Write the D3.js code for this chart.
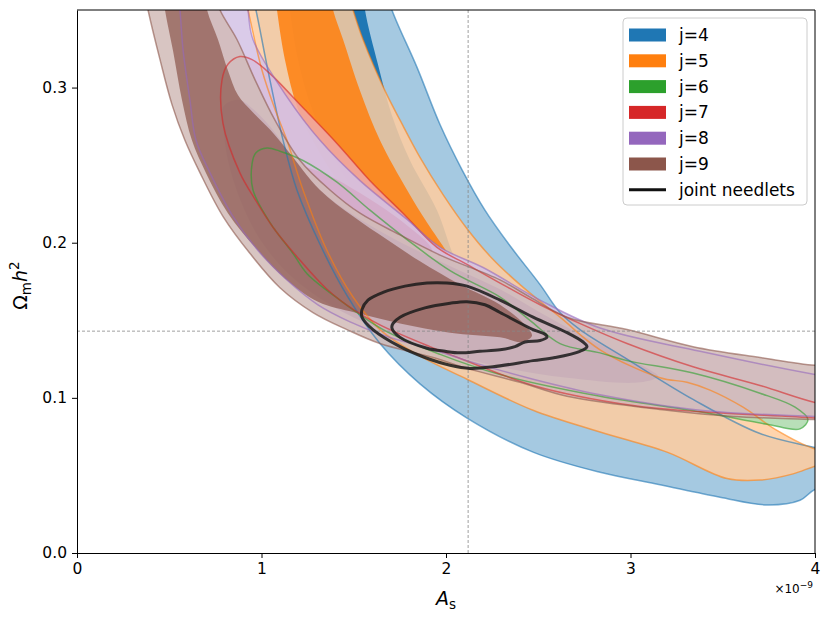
<!DOCTYPE html>
<html>
<head>
<meta charset="utf-8">
<script src="https://cdn.jsdelivr.net/npm/d3@7"></script>
<style>
  body { margin: 0; background: #fff; }
  text { font-family: "DejaVu Sans", sans-serif; }
</style>
</head>
<body>
<svg width="831" height="621"></svg>
<script>
// ---- data (A_s in units of 1e-9, Omega_m h^2) ----
const series = ["j=4", "j=5", "j=6", "j=7", "j=8", "j=9"];
const colors = ["#1f77b4", "#ff7f0e", "#2ca02c", "#d62728", "#9467bd", "#8c564b"];
const xTicks = [0, 1, 2, 3, 4];
const yTicks = [0.0, 0.1, 0.2, 0.3];
const fiducial = {As: 2.12, omh2: 0.143};

const j4_95 = [[0.938,0.366],[0.970,0.350],[1.035,0.311],[1.117,0.266],[1.192,0.234],[1.317,0.199],[1.463,0.166],[1.642,0.135],[1.859,0.109],[2.114,0.087],[2.472,0.065],[2.835,0.052],[3.160,0.044],[3.485,0.036],[3.740,0.031],[3.919,0.034],[4.000,0.041],[4.190,0.047],[4.190,0.063],[4.000,0.068],[3.702,0.077],[3.339,0.099],[2.981,0.125],[2.726,0.144],[2.618,0.155],[2.510,0.173],[2.347,0.198],[2.211,0.221],[2.087,0.247],[1.968,0.276],[1.843,0.313],[1.707,0.350],[1.669,0.366]];
const j4_68 = [[1.138,0.366],[1.154,0.350],[1.198,0.318],[1.274,0.286],[1.398,0.253],[1.561,0.224],[1.751,0.198],[1.940,0.179],[2.103,0.168],[2.173,0.166],[2.130,0.176],[2.049,0.190],[1.951,0.221],[1.805,0.253],[1.707,0.282],[1.631,0.315],[1.561,0.350],[1.550,0.366]];

const j5_95 = [[0.900,0.366],[0.927,0.350],[1.003,0.311],[1.073,0.286],[1.138,0.266],[1.225,0.234],[1.355,0.195],[1.496,0.165],[1.642,0.144],[1.843,0.128],[2.114,0.112],[2.472,0.092],[2.835,0.078],[3.198,0.065],[3.523,0.048],[3.702,0.047],[3.881,0.051],[4.000,0.056],[4.136,0.060],[4.136,0.065],[4.000,0.067],[3.794,0.079],[3.610,0.094],[3.431,0.105],[3.306,0.110],[3.160,0.113],[2.835,0.131],[2.618,0.152],[2.401,0.173],[2.249,0.190],[2.114,0.209],[1.984,0.231],[1.859,0.255],[1.751,0.279],[1.669,0.298],[1.550,0.331],[1.496,0.350],[1.458,0.366]];
const j5_68 = [[1.068,0.366],[1.084,0.350],[1.127,0.318],[1.198,0.286],[1.306,0.260],[1.453,0.234],[1.615,0.215],[1.805,0.199],[1.995,0.186],[2.054,0.184],[2.005,0.194],[1.897,0.213],[1.789,0.234],[1.642,0.266],[1.534,0.298],[1.442,0.331],[1.388,0.350],[1.366,0.366]];

const j6_95 = [[1.030,0.261],[1.100,0.259],[1.225,0.253],[1.409,0.239],[1.588,0.221],[1.789,0.202],[2.022,0.182],[2.293,0.165],[2.455,0.150],[2.618,0.135],[2.835,0.129],[2.981,0.124],[3.339,0.116],[3.702,0.103],[3.892,0.094],[3.962,0.086],[3.919,0.080],[3.740,0.083],[3.377,0.091],[2.835,0.101],[2.293,0.115],[1.968,0.128],[1.659,0.144],[1.425,0.163],[1.247,0.180],[1.171,0.193],[1.046,0.213],[0.954,0.234],[0.949,0.251],[0.970,0.258]];

const j7_95 = [[0.883,0.320],[0.949,0.318],[1.046,0.309],[1.225,0.287],[1.409,0.264],[1.588,0.240],[1.767,0.219],[1.951,0.197],[2.114,0.186],[2.293,0.174],[2.510,0.160],[2.743,0.147],[2.981,0.135],[3.339,0.120],[3.702,0.108],[4.000,0.097],[4.190,0.093],[4.190,0.085],[4.000,0.087],[3.377,0.091],[3.014,0.095],[2.472,0.108],[2.130,0.123],[1.913,0.133],[1.642,0.147],[1.496,0.157],[1.355,0.170],[1.192,0.191],[1.062,0.210],[0.965,0.228],[0.883,0.245],[0.791,0.277],[0.786,0.305],[0.818,0.315]];
const j7_68 = [[0.911,0.280],[1.003,0.276],[1.171,0.253],[1.355,0.244],[1.534,0.232],[1.713,0.218],[1.832,0.207],[1.913,0.198],[1.924,0.194],[1.832,0.192],[1.642,0.192],[1.425,0.202],[1.209,0.218],[1.046,0.237],[0.938,0.256],[0.883,0.269]];

const j8_95 = [[0.911,0.366],[0.927,0.350],[0.954,0.331],[1.138,0.294],[1.317,0.266],[1.534,0.240],[1.789,0.215],[1.968,0.197],[2.201,0.184],[2.510,0.163],[2.835,0.145],[3.377,0.130],[4.000,0.115],[4.190,0.111],[4.190,0.087],[4.000,0.088],[3.377,0.092],[2.835,0.102],[2.472,0.112],[2.114,0.124],[1.930,0.131],[1.669,0.140],[1.480,0.149],[1.306,0.160],[1.138,0.176],[0.981,0.195],[0.840,0.218],[0.721,0.245],[0.645,0.266],[0.612,0.292],[0.575,0.324],[0.558,0.350],[0.542,0.366]];
const j8_68 = [[0.813,0.290],[0.883,0.292],[0.965,0.285],[1.073,0.271],[1.182,0.253],[1.317,0.234],[1.496,0.218],[1.680,0.205],[1.859,0.194],[2.076,0.182],[2.293,0.170],[2.510,0.155],[2.726,0.141],[2.943,0.128],[3.106,0.118],[3.149,0.114],[3.052,0.110],[2.656,0.113],[2.293,0.120],[1.968,0.130],[1.642,0.144],[1.371,0.160],[1.154,0.179],[0.992,0.202],[0.883,0.228],[0.818,0.253],[0.791,0.276],[0.786,0.286]];

const j9_95 = [[0.358,0.366],[0.385,0.350],[0.450,0.318],[0.515,0.289],[0.585,0.266],[0.667,0.245],[0.791,0.217],[0.938,0.193],[1.100,0.171],[1.279,0.155],[1.463,0.144],[1.642,0.135],[1.930,0.126],[2.114,0.119],[2.401,0.110],[2.656,0.101],[3.198,0.092],[3.556,0.088],[4.000,0.086],[4.190,0.085],[4.190,0.121],[4.000,0.121],[3.702,0.126],[3.339,0.133],[2.981,0.144],[2.656,0.152],[2.455,0.165],[2.293,0.176],[1.968,0.192],[1.751,0.205],[1.534,0.219],[1.371,0.234],[1.209,0.253],[1.073,0.279],[0.965,0.305],[0.867,0.331],[0.775,0.350],[0.732,0.366]];
const j9_68 = [[0.461,0.366],[0.477,0.350],[0.520,0.324],[0.569,0.292],[0.623,0.266],[0.699,0.245],[0.818,0.219],[0.965,0.197],[1.127,0.177],[1.306,0.162],[1.507,0.155],[1.751,0.148],[2.022,0.142],[2.293,0.139],[2.412,0.136],[2.466,0.140],[2.428,0.147],[2.293,0.160],[2.076,0.173],[1.859,0.188],[1.680,0.202],[1.496,0.217],[1.317,0.234],[1.138,0.260],[1.046,0.273],[0.954,0.284],[0.873,0.295],[0.818,0.311],[0.764,0.331],[0.705,0.350],[0.688,0.366]];

const joint95 = [[1.545,0.157],[1.577,0.163],[1.659,0.168],[1.778,0.172],[1.897,0.174],[2.005,0.174],[2.114,0.172],[2.293,0.163],[2.472,0.152],[2.656,0.142],[2.743,0.136],[2.764,0.133],[2.726,0.130],[2.591,0.126],[2.472,0.124],[2.255,0.120],[2.130,0.119],[2.022,0.121],[1.886,0.126],[1.751,0.133],[1.604,0.144],[1.545,0.152]];
const joint68 = [[1.713,0.148],[1.751,0.152],[1.886,0.158],[2.022,0.161],[2.114,0.162],[2.211,0.160],[2.293,0.155],[2.472,0.144],[2.537,0.141],[2.547,0.139],[2.510,0.137],[2.428,0.136],[2.374,0.133],[2.293,0.131],[2.184,0.130],[2.076,0.129],[1.995,0.130],[1.897,0.132],[1.751,0.139],[1.707,0.145]];

const outer = [j4_95, j5_95, j6_95, j7_95, j8_95, j9_95];
const inner = [j4_68, j5_68, null, j7_68, j8_68, j9_68];

// ---- layout ----
const svg = d3.select("svg"),
      margin = {top: 10, right: 16, bottom: 68, left: 77},
      width = +svg.attr("width") - margin.left - margin.right,
      height = +svg.attr("height") - margin.top - margin.bottom;

const g = svg.append("g").attr("transform", `translate(${margin.left},${margin.top})`);

const x = d3.scaleLinear().domain([0, 4]).range([0, width]);
const y = d3.scaleLinear().domain([0, 0.35]).range([height, 0]);

svg.append("defs").append("clipPath").attr("id", "plotclip")
  .append("rect").attr("width", width).attr("height", height);

const plot = g.append("g").attr("clip-path", "url(#plotclip)");
const contour = d3.line()
  .x(d => x(d[0]))
  .y(d => y(d[1]))
  .curve(d3.curveCatmullRomClosed.alpha(0.5));

// filled contours: 95% level paler, 68% level full colour
series.forEach((s, i) => {
  const pale = d3.interpolateRgb(colors[i], "#ffffff")(0.6);
  const opOuter = i === 0 ? 1 : 0.85;
  const opInner = i === 0 ? 1 : (i === 5 ? 0.7 : 0.85);
  plot.append("path").attr("d", contour(outer[i]))
    .attr("fill", pale).attr("fill-opacity", opOuter);
  if (inner[i]) {
    plot.append("path").attr("d", contour(inner[i]))
      .attr("fill", colors[i]).attr("fill-opacity", opInner);
  }
});

// contour edges
series.forEach((s, i) => {
  plot.append("path").attr("d", contour(outer[i]))
    .attr("fill", "none").attr("stroke", colors[i])
    .attr("stroke-opacity", 0.6).attr("stroke-width", 1.5);
});

// fiducial markers
plot.append("line")
  .attr("x1", x(fiducial.As)).attr("x2", x(fiducial.As))
  .attr("y1", 0).attr("y2", height)
  .attr("stroke", "#888").attr("stroke-width", 0.8).attr("stroke-dasharray", "3,2");
plot.append("line")
  .attr("x1", 0).attr("x2", width)
  .attr("y1", y(fiducial.omh2)).attr("y2", y(fiducial.omh2))
  .attr("stroke", "#888").attr("stroke-width", 0.8).attr("stroke-dasharray", "3,2");

// joint needlets
[joint95, joint68].forEach(c => {
  plot.append("path").attr("d", contour(c))
    .attr("fill", "none").attr("stroke", "#1a1a1a")
    .attr("stroke-opacity", 0.85).attr("stroke-width", 3);
});

// ---- axes ----
const xAxis = g.append("g")
  .attr("transform", `translate(0,${height})`)
  .call(d3.axisBottom(x).tickValues(xTicks).tickFormat(d3.format("d")).tickSize(5).tickPadding(5).tickSizeOuter(0));
const yAxis = g.append("g")
  .call(d3.axisLeft(y).tickValues(yTicks).tickFormat(d3.format(".1f")).tickSize(5).tickPadding(5).tickSizeOuter(0));
[xAxis, yAxis].forEach(a => {
  a.selectAll("text").style("font-size", "15.5px").attr("fill", "#000");
  a.selectAll("line").attr("stroke", "#000");
  a.select(".domain").attr("stroke", "#000");
});

g.append("line").attr("x1", 0).attr("x2", width).attr("y1", 0).attr("y2", 0).attr("stroke", "#000");
g.append("line").attr("x1", width).attr("x2", width).attr("y1", 0).attr("y2", height).attr("stroke", "#000");

// axis labels
const xl = g.append("text")
  .attr("x", width / 2).attr("y", height + 52)
  .attr("text-anchor", "middle").style("font-size", "19px");
xl.append("tspan").style("font-style", "italic").text("A");
xl.append("tspan").attr("dy", 4).style("font-size", "13.5px").text("s");

const yl = g.append("text")
  .attr("transform", `translate(-50,${height / 2 + 4}) rotate(-90)`)
  .attr("text-anchor", "middle").style("font-size", "19px");
yl.append("tspan").text("Ω");
yl.append("tspan").attr("dy", 4).style("font-size", "13.5px").text("m");
yl.append("tspan").attr("dy", -4).style("font-style", "italic").text("h");
yl.append("tspan").attr("dy", -8).style("font-size", "13.5px").text("2");

const mult = g.append("text")
  .attr("x", width - 2).attr("y", height + 40)
  .attr("text-anchor", "end").style("font-size", "12px");
mult.append("tspan").text("×10");
mult.append("tspan").attr("dy", -5).style("font-size", "9px").text("−9");

// ---- legend ----
const legend = svg.append("g").attr("transform", "translate(623,18)");
legend.append("rect")
  .attr("width", 184).attr("height", 187).attr("rx", 4)
  .attr("fill", "#fff").attr("fill-opacity", 0.8)
  .attr("stroke", "#cccccc").attr("stroke-width", 1);

const entries = series.concat(["joint needlets"]);
entries.forEach((label, i) => {
  const cy = 17 + i * 25.8;
  if (i < series.length) {
    legend.append("rect")
      .attr("x", 6).attr("y", cy - 6.5).attr("width", 37).attr("height", 13)
      .attr("fill", colors[i]);
  } else {
    legend.append("line")
      .attr("x1", 6).attr("x2", 43).attr("y1", cy).attr("y2", cy)
      .attr("stroke", "#111").attr("stroke-width", 3);
  }
  legend.append("text")
    .attr("x", 56).attr("y", cy + 6)
    .style("font-size", "17px")
    .text(label);
});
</script>
</body>
</html>
